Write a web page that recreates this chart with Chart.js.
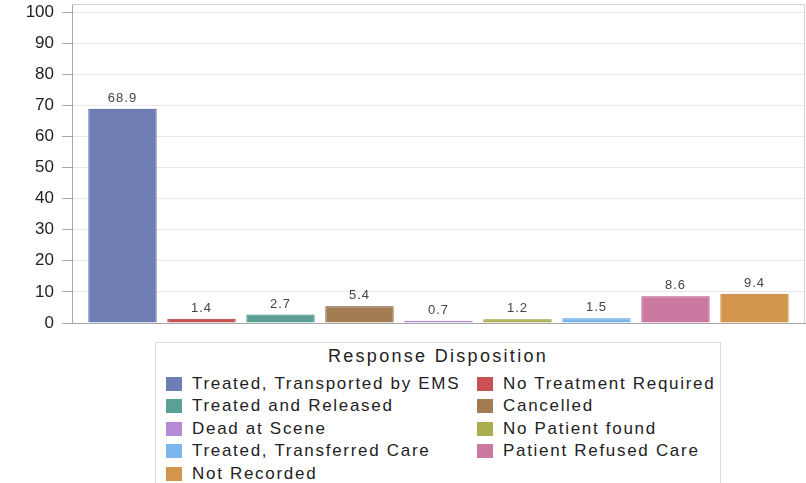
<!DOCTYPE html>
<html>
<head>
<meta charset="utf-8">
<script src="https://cdn.jsdelivr.net/npm/chart.js@4"></script>
<style>
  html, body { margin: 0; padding: 0; background: #fff; }
  body { width: 806px; height: 483px; position: relative; overflow: hidden; font-family: "Liberation Sans", Arial, sans-serif; }
  #wrap { position: absolute; left: 0; top: 0; width: 806px; height: 330px; }
  #legend { position: absolute; left: 155px; top: 342px; width: 566px; height: 160px; border: 1px solid #dcdcdc; box-sizing: border-box; }
  #legend .title { position: absolute; left: 0; right: 0; top: 3px; text-align: center; font-size: 18px; color: #222; letter-spacing: 2.3px; }
  #legend .item { position: absolute; font-size: 17px; color: #222; letter-spacing: 1.7px; white-space: nowrap; line-height: 18px; }
  #legend .box { position: absolute; left: 0; top: 2px; width: 16px; height: 14px; }
  #legend .item span.txt { position: absolute; left: 26px; top: 0; }
</style>
</head>
<body>
<div id="wrap"><canvas id="chart"></canvas></div>
<div id="legend"></div>
<script>
// Response Disposition (%)
const categories = [
  "Treated, Transported by EMS",
  "No Treatment Required",
  "Treated and Released",
  "Cancelled",
  "Dead at Scene",
  "No Patient found",
  "Treated, Transferred Care",
  "Patient Refused Care",
  "Not Recorded"
];
const values = [68.9, 1.4, 2.7, 5.4, 0.7, 1.2, 1.5, 8.6, 9.4];
const valueLabels = ["68.9", "1.4", "2.7", "5.4", "0.7", "1.2", "1.5", "8.6", "9.4"];
const yTicks = [0, 10, 20, 30, 40, 50, 60, 70, 80, 90, 100];
const legendTitle = "Response Disposition";

const fills = ["#6e7db4", "#c85252", "#5b9f95", "#a47c54", "#b58ad6", "#abae4e", "#7db6ec", "#cc79a1", "#d3954b"];
const borders = ["#3f4f99", "#a83434", "#3d8276", "#6b4a26", "#a063d0", "#878b2c", "#4a9cea", "#a8507c", "#b87524"];

// value labels above each bar
const barLabels = {
  id: "barLabels",
  afterDatasetsDraw(chart) {
    const ctx = chart.ctx;
    ctx.save();
    ctx.font = "13px 'Liberation Sans', Arial, sans-serif";
    ctx.letterSpacing = "1px";
    ctx.fillStyle = "#444";
    ctx.textAlign = "center";
    ctx.textBaseline = "alphabetic";
    chart.data.datasets.forEach((ds, i) => {
      const bar = chart.getDatasetMeta(i).data[0];
      ctx.fillText(valueLabels[i], bar.x, bar.y - 7);
    });
    ctx.restore();
  }
};

// grey frame round the plot, a little above the 100 line
const frame = {
  id: "frame",
  beforeDatasetsDraw(chart) {
    const a = chart.chartArea;
    const ctx = chart.ctx;
    ctx.save();
    ctx.strokeStyle = "#cfcfcf";
    ctx.lineWidth = 1;
    ctx.beginPath();
    ctx.moveTo(a.left + 0.5, a.top - 7.5);
    ctx.lineTo(a.right - 0.5, a.top - 7.5);
    ctx.lineTo(a.right - 0.5, a.bottom);
    ctx.stroke();
    ctx.strokeStyle = "#a8a8a8";
    ctx.beginPath();
    ctx.moveTo(a.left + 0.5, a.top - 7.5);
    ctx.lineTo(a.left + 0.5, a.top);
    ctx.stroke();
    ctx.restore();
  }
};

const chart = new Chart(document.getElementById("chart"), {
  type: "bar",
  data: {
    labels: [""],
    datasets: categories.map((name, i) => ({
      label: name,
      data: [values[i]],
      backgroundColor: fills[i],
      borderColor: borders[i],
      borderWidth: 1
    }))
  },
  options: {
    responsive: true,
    maintainAspectRatio: false,
    animation: false,
    layout: { padding: { top: 12, right: 1, bottom: 7, left: 0 } },
    datasets: { bar: { categoryPercentage: 0.97, barPercentage: 0.865 } },
    plugins: {
      legend: { display: false },
      tooltip: { enabled: false }
    },
    scales: {
      x: {
        grid: { display: false },
        border: { color: "#a8a8a8" },
        ticks: { display: false },
        afterFit(scale) { scale.height = 0; }
      },
      y: {
        min: 0,
        max: 100,
        afterBuildTicks(scale) { scale.ticks = yTicks.map(v => ({ value: v })); },
        afterFit(scale) {
          scale.width = 72;
          scale.paddingTop = 0;
          scale.paddingBottom = 0;
        },
        grid: { color: "#e9e9e9", tickColor: "#a8a8a8", tickLength: 10 },
        border: { color: "#a8a8a8" },
        ticks: {
          padding: 8,
          color: "#222",
          font: { family: "'Liberation Sans', Arial, sans-serif", size: 17 }
        }
      }
    }
  },
  plugins: [frame, barLabels]
});

// legend in two columns, built from the chart's datasets
const legend = document.getElementById("legend");
const t = document.createElement("div");
t.className = "title";
t.textContent = legendTitle;
legend.appendChild(t);
chart.data.datasets.forEach((ds, i) => {
  const item = document.createElement("div");
  item.className = "item";
  item.style.left = (i % 2 === 0 ? 10 : 321) + "px";
  item.style.top = (32 + Math.floor(i / 2) * 22.4) + "px";
  const box = document.createElement("div");
  box.className = "box";
  box.style.background = ds.backgroundColor;
  const txt = document.createElement("span");
  txt.className = "txt";
  txt.textContent = ds.label;
  item.appendChild(box);
  item.appendChild(txt);
  legend.appendChild(item);
});
</script>
</body>
</html>
